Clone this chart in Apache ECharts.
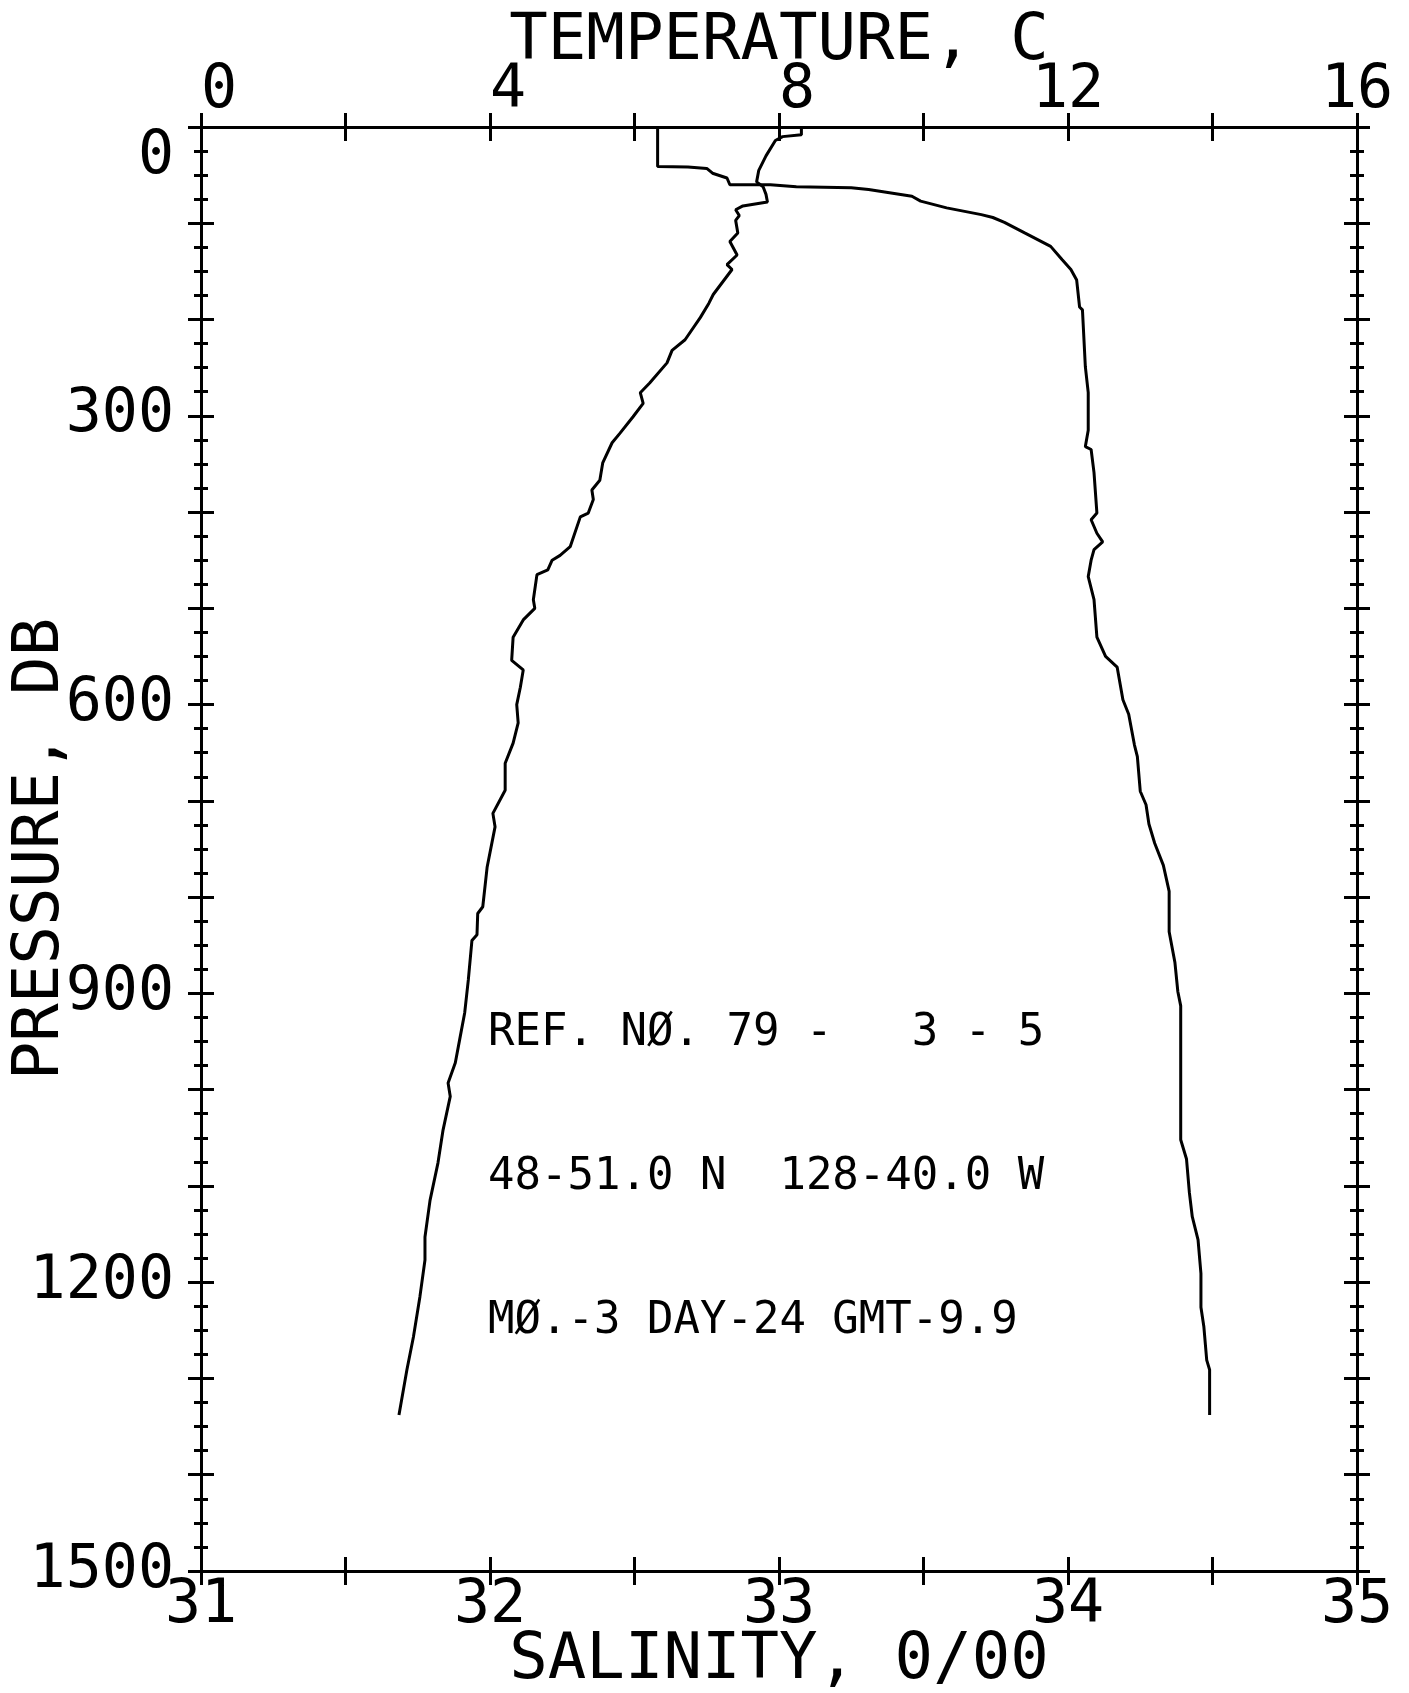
<!DOCTYPE html>
<html>
<head>
<meta charset="utf-8">
<title>Temperature / salinity profile</title>
<script src="https://cdn.jsdelivr.net/npm/echarts@6/dist/echarts.min.js"></script>
<style>
  html, body { margin: 0; padding: 0; background: #fff; }
  #chart { width: 1409px; height: 1693px; }
</style>
</head>
<body>
<div id="chart"></div>
<script>
// temperature trace: pressure (db) / temperature (C)
const tempPressure = [0, 8, 10, 14, 30, 45, 57, 62, 70, 78, 82, 86, 92, 97, 110, 119, 133, 143, 148, 174,
  183, 198, 221, 232, 245, 266, 276, 287, 301, 318, 328, 349, 367, 377, 387, 401, 405, 436, 445, 450,
  460, 465, 491, 500, 512, 530, 554, 564, 582, 600, 619, 640, 661, 689, 713, 727, 769, 810, 817, 839,
  845, 886, 920, 948, 972, 993, 1007, 1042, 1076, 1115, 1153, 1177, 1215, 1257, 1291, 1338];
const tempValues = [8.31, 8.31, 8.05, 7.95, 7.82, 7.72, 7.69, 7.78, 7.82, 7.84, 7.50, 7.40, 7.45, 7.40, 7.43, 7.32, 7.42, 7.28, 7.35, 7.09,
  7.03, 6.91, 6.70, 6.52, 6.45, 6.21, 6.08, 6.12, 5.98, 5.80, 5.69, 5.56, 5.52, 5.41, 5.43, 5.36, 5.25, 5.11, 4.97, 4.86,
  4.80, 4.65, 4.60, 4.62, 4.46, 4.32, 4.30, 4.46, 4.42, 4.37, 4.39, 4.32, 4.21, 4.21, 4.04, 4.07, 3.96, 3.90, 3.83, 3.82,
  3.75, 3.70, 3.65, 3.58, 3.52, 3.42, 3.45, 3.35, 3.28, 3.17, 3.10, 3.10, 3.03, 2.94, 2.85, 2.74];

// salinity trace: pressure (db) / salinity (o/oo)
const salPressure = [0, 41, 41.5, 43, 48, 53, 60, 60, 62, 63, 65, 72, 77, 84, 91, 94, 99, 110, 124, 138,
  148, 159, 187, 190, 249, 276, 315, 332, 335, 359, 401, 408, 422, 431, 439, 450, 467, 491, 530, 550,
  561, 595, 610, 642, 654, 690, 704, 724, 744, 767, 794, 836, 868, 898, 913, 948, 1052, 1072, 1107, 1132,
  1156, 1191, 1226, 1246, 1281, 1291, 1338];
const salValues = [32.58, 32.58, 32.685, 32.75, 32.77, 32.82, 32.83, 32.97, 33.06, 33.25, 33.31, 33.46, 33.49, 33.58, 33.70, 33.74, 33.78, 33.85, 33.94, 33.98,
  34.01, 34.03, 34.04, 34.05, 34.06, 34.07, 34.07, 34.06, 34.08, 34.09, 34.10, 34.08, 34.10, 34.12, 34.09, 34.08, 34.07, 34.09, 34.10, 34.13,
  34.17, 34.19, 34.21, 34.23, 34.24, 34.25, 34.27, 34.28, 34.30, 34.33, 34.35, 34.35, 34.37, 34.38, 34.39, 34.39, 34.39, 34.41, 34.42, 34.43,
  34.45, 34.46, 34.46, 34.47, 34.48, 34.49, 34.49];

// labelled ticks
const tempTicks = [0, 4, 8, 12, 16];
const salTicks = [31, 32, 33, 34, 35];
const pressureTicks = [0, 300, 600, 900, 1200, 1500];

const infoLines = ["REF. NØ. 79 -   3 - 5", "48-51.0 N  128-40.0 W", "MØ.-3 DAY-24 GMT-9.9"];

const chart = echarts.init(document.getElementById("chart"));
const FONT = "DejaVu Sans Mono";
const black = "#000";
const has = (list, v) => list.some((t) => Math.abs(t - v) < 1e-6);

const bigText = { fontFamily: FONT, fontSize: 60, color: black };
const nameText = { fontFamily: FONT, fontSize: 64, color: black };
const line3 = { color: black, width: 3 };

function xAx(grid, pos, min, max, interval, inside, extra) {
  return Object.assign({
    gridIndex: grid,
    type: "value",
    position: pos,
    min: min,
    max: max,
    interval: interval,
    axisLine: { show: true, onZero: false, lineStyle: line3 },
    axisTick: { show: true, inside: inside, length: 14, lineStyle: line3 },
    axisLabel: { show: false },
    splitLine: { show: false },
  }, extra);
}

function yAx(grid, pos, inside, extra) {
  return Object.assign({
    gridIndex: grid,
    type: "value",
    position: pos,
    inverse: true,
    min: 0,
    max: 1500,
    interval: 100,
    axisLine: { show: true, onZero: false, lineStyle: line3 },
    axisTick: { show: true, inside: inside, length: 13, lineStyle: line3 },
    minorTick: { show: true, splitNumber: 4, length: 7, lineStyle: line3 },
    axisLabel: { show: false },
    splitLine: { show: false },
    minorSplitLine: { show: false },
  }, extra);
}

// both grids share the same box; the second only carries the inward ticks
const rect = { left: 201, top: 127, width: 1156, height: 1444, containLabel: false, outerBoundsMode: "none" };

const option = {
  animation: false,
  backgroundColor: "#fff",
  grid: [Object.assign({}, rect), Object.assign({}, rect)],
  xAxis: [
    xAx(0, "bottom", 31, 35, 0.5, false, {
      axisLabel: Object.assign({
        show: true,
        margin: 5,
        showMinLabel: true,
        showMaxLabel: true,
        formatter: (v) => (has(salTicks, v) ? String(v) : ""),
      }, bigText),
      name: "SALINITY, 0/00",
      nameLocation: "middle",
      nameGap: 58,
      nameMoveOverlap: false,
      nameTextStyle: nameText,
    }),
    xAx(0, "top", 0, 16, 2, false, {
      axisLabel: Object.assign({
        show: true,
        margin: 6,
        showMinLabel: true,
        showMaxLabel: true,
        formatter: (v) => (has(tempTicks, v) ? String(v).padStart(2, " ") : ""),
      }, bigText),
      name: "TEMPERATURE, C",
      nameLocation: "middle",
      nameGap: 53,
      nameMoveOverlap: false,
      nameTextStyle: nameText,
    }),
    xAx(1, "bottom", 31, 35, 0.5, true, {}),
    xAx(1, "top", 0, 16, 2, true, {}),
  ],
  yAxis: [
    yAx(0, "left", false, {
      axisLabel: Object.assign({
        show: true,
        margin: 27,
        showMinLabel: true,
        showMaxLabel: true,
        verticalAlignMinLabel: "top",
        formatter: (v) => (has(pressureTicks, v) ? String(v) : ""),
      }, bigText),
      name: "PRESSURE, DB",
      nameLocation: "middle",
      nameGap: 128,
      nameMoveOverlap: false,
      nameTextStyle: nameText,
    }),
    yAx(0, "right", false, {}),
    yAx(1, "left", true, {}),
    yAx(1, "right", true, {}),
  ],
  graphic: infoLines.map((t, i) => ({
    type: "text",
    x: 488,
    y: 1034 + i * 144,
    silent: true,
    style: {
      text: t,
      fill: black,
      font: "44px " + FONT,
      align: "left",
      verticalAlign: "middle",
    },
  })),
  series: [
    {
      name: "Temperature",
      type: "line",
      xAxisIndex: 1,
      yAxisIndex: 0,
      showSymbol: false,
      symbol: "none",
      lineStyle: { color: black, width: 3 },
      data: tempPressure.map((p, i) => [tempValues[i], p]),
    },
    {
      name: "Salinity",
      type: "line",
      xAxisIndex: 0,
      yAxisIndex: 0,
      showSymbol: false,
      symbol: "none",
      lineStyle: { color: black, width: 3 },
      data: salPressure.map((p, i) => [salValues[i], p]),
    },
  ],
};

chart.setOption(option);
</script>
</body>
</html>
